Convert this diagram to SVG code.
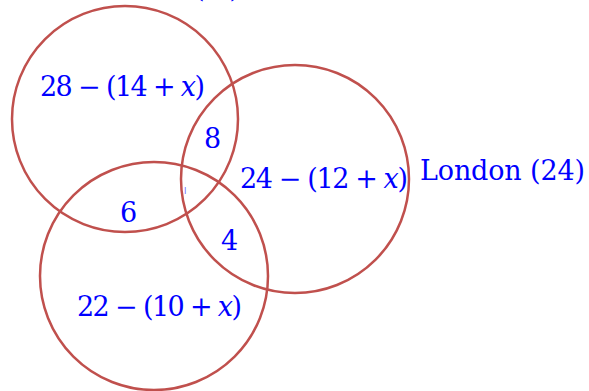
<svg xmlns="http://www.w3.org/2000/svg" width="589" height="391" viewBox="0 0 589 391">
<style>
.c{fill:none;stroke:#c0504d;stroke-width:2.5}
.t{font-family:"DejaVu Serif","Liberation Serif",serif;font-size:27px;fill:#0000ff}
.i{font-style:italic}
</style>
<rect width="589" height="391" fill="#ffffff"/>
<g id="circleA"><circle class="c" cx="125" cy="119" r="113"/></g>
<g id="circleB"><circle class="c" cx="295" cy="179" r="114"/></g>
<g id="circleC"><circle class="c" cx="154" cy="276" r="114"/></g>
<g id="labels">
<text class="t" x="194" y="-3" textLength="46" lengthAdjust="spacing">(28)</text>
<text class="t" x="40" y="96" textLength="165" lengthAdjust="spacing">28 − (14 + <tspan class="i">x</tspan>)</text>
<text class="t" x="204" y="148">8</text>
<text class="t" x="240" y="188" textLength="168" lengthAdjust="spacing">24 − (12 + <tspan class="i">x</tspan>)</text>
<text class="t" x="420" y="180" textLength="165" lengthAdjust="spacing">London (24)</text>
<text class="t" x="120" y="222">6</text>
<text class="t" x="221" y="250">4</text>
<text class="t" x="77" y="316" textLength="165" lengthAdjust="spacing">22 − (10 + <tspan class="i">x</tspan>)</text>
<text x="184" y="194" style="font-family:'DejaVu Sans',sans-serif;font-size:8px;fill:#6a6aff">I</text>
</g>
</svg>
